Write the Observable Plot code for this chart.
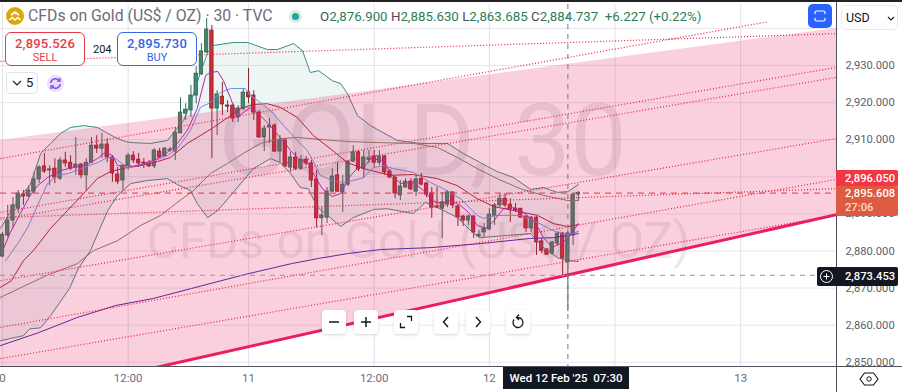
<!DOCTYPE html>
<html><head><meta charset="utf-8">
<script src="https://cdn.jsdelivr.net/npm/d3@7"></script>
<script src="https://cdn.jsdelivr.net/npm/@observablehq/plot@0.6"></script>
<style>
html,body{margin:0;padding:0;background:#fff;overflow:hidden}
#wrap{position:relative;width:902px;height:392px;overflow:hidden;font-family:Roboto,sans-serif}
#wrap svg.plot{position:absolute;left:0;top:0}
.abs{position:absolute;box-sizing:border-box;white-space:nowrap}
.tag{left:836px;width:62px;color:#fff;font-size:11.2px;font-weight:500;padding-left:9px;border-radius:0 2px 2px 0}
.nav{width:24px;height:24px;top:310px;background:#fff;border-radius:4px;box-shadow:0 1px 3px rgba(0,0,0,.16)}
.nav svg{display:block}
</style></head><body><div id="wrap"></div>
<script>
// ---------- candles (30 min, bar 0 = 10 Feb 00:00) ----------
const opens = [2878.5,2884.2,2888.2,2891.4,2895.2,2894.7,2896.0,2899.3,2902.8,2901.7,2902.2,2899.5,2904.4,2903.8,2902.5,2903.3,2900.4,2903.8,2908.4,2907.6,2908.7,2905.2,2900.6,2899.0,2903.0,2905.7,2904.6,2903.8,2903.8,2902.8,2906.8,2905.5,2907.1,2906.8,2911.7,2917.0,2917.9,2921.9,2927.6,2933.5,2939.4,2918.4,2921.6,2919.2,2919.2,2916.0,2918.4,2922.7,2921.9,2917.3,2910.6,2913.3,2913.8,2906.8,2909.8,2902.5,2905.2,2902.2,2904.6,2903.6,2899.3,2888.8,2889.0,2896.0,2900.4,2895.8,2897.9,2904.1,2906.6,2902.2,2904.6,2905.5,2903.8,2905.5,2901.4,2899.8,2895.0,2897.1,2898.7,2896.0,2899.5,2898.2,2895.5,2892.0,2891.4,2892.5,2895.8,2892.0,2889.3,2888.2,2889.3,2883.9,2885.0,2885.8,2889.5,2892.3,2894.1,2892.5,2891.4,2891.4,2889.3,2886.1,2889.0,2882.6,2880.4,2879.3,2882.0,2884.7,2876.9,2884.2,2895.2];
const highs = [2885.0,2892.3,2894.4,2896.3,2896.3,2897.6,2901.2,2903.0,2906.3,2903.0,2904.9,2905.2,2906.6,2905.7,2910.6,2903.6,2904.9,2910.6,2911.1,2911.7,2910.3,2905.7,2902.5,2903.0,2906.3,2906.8,2906.3,2904.9,2904.4,2907.6,2907.6,2907.9,2907.9,2913.3,2921.3,2919.7,2924.6,2929.7,2935.9,2942.7,2940.8,2923.2,2925.4,2920.5,2919.7,2919.2,2923.8,2929.2,2923.2,2917.9,2913.8,2915.7,2914.3,2911.1,2910.3,2906.6,2906.6,2905.7,2905.5,2904.4,2901.7,2891.7,2897.1,2902.2,2903.8,2900.4,2904.4,2908.4,2907.1,2907.1,2907.1,2907.1,2907.1,2905.7,2901.9,2900.1,2899.0,2899.5,2899.5,2900.4,2900.9,2898.5,2897.1,2897.1,2895.8,2896.3,2895.8,2892.3,2889.6,2889.6,2889.6,2885.5,2887.4,2891.4,2892.8,2895.5,2895.5,2894.1,2892.8,2891.4,2889.3,2889.3,2889.3,2883.4,2880.7,2882.6,2885.0,2885.0,2885.63,2895.5,2896.05];
const lows = [2878.2,2883.6,2886.3,2890.1,2892.3,2894.4,2895.5,2898.2,2900.9,2897.6,2898.2,2899.0,2902.5,2901.7,2900.4,2899.5,2896.3,2903.6,2906.3,2904.9,2903.8,2898.5,2897.9,2896.3,2901.7,2903.6,2902.5,2902.2,2902.5,2902.2,2904.9,2905.2,2906.6,2904.4,2911.7,2915.2,2916.0,2919.7,2927.3,2933.2,2904.9,2911.1,2916.5,2917.3,2914.6,2914.6,2917.9,2919.7,2915.2,2910.3,2906.8,2909.0,2906.6,2903.8,2902.5,2901.2,2901.7,2901.7,2903.0,2897.1,2886.3,2884.2,2887.4,2895.8,2895.8,2890.4,2897.4,2903.8,2901.4,2899.5,2903.6,2902.5,2903.0,2900.4,2899.5,2894.1,2893.6,2897.1,2896.3,2894.7,2897.6,2894.4,2888.8,2891.4,2883.4,2891.7,2891.4,2886.6,2886.6,2886.9,2883.4,2883.4,2883.6,2885.5,2886.9,2891.7,2891.7,2887.7,2890.4,2888.8,2885.0,2885.0,2878.8,2879.3,2878.8,2878.8,2881.5,2872.9,2863.685,2881.5,2893.3];
const closes = [2884.4,2888.2,2892.3,2895.5,2894.7,2896.3,2899.3,2902.5,2901.4,2902.0,2899.8,2904.4,2903.6,2902.2,2903.3,2900.4,2903.8,2908.4,2907.6,2908.7,2905.2,2900.9,2898.7,2903.0,2905.7,2904.4,2903.6,2903.6,2902.8,2907.1,2905.2,2907.6,2907.3,2911.9,2917.3,2918.1,2921.9,2927.8,2933.8,2939.7,2918.4,2922.2,2919.5,2918.9,2915.7,2918.4,2922.7,2921.4,2917.3,2910.6,2913.0,2913.8,2906.8,2909.8,2902.8,2905.2,2902.2,2904.6,2903.6,2899.0,2888.8,2889.6,2896.0,2900.1,2896.0,2897.9,2904.1,2906.6,2902.0,2905.2,2904.9,2903.8,2905.5,2901.2,2899.8,2895.5,2897.4,2898.7,2896.6,2899.3,2897.9,2895.2,2891.7,2891.7,2893.1,2895.8,2892.3,2889.0,2888.2,2889.3,2885.0,2884.4,2886.1,2889.8,2892.3,2894.1,2892.3,2891.2,2890.9,2889.0,2886.1,2889.0,2882.3,2880.1,2879.0,2882.3,2884.7,2878.0,2884.737,2895.2,2895.608];

// ---------- indicators: [bar, price] readings ----------
const bbUpperBars = [-0.4,1.5,3.8,5.2,5.9,7.3,9.2,11.1,13,15.5,18.1,20.1,22,23.5,25,28.3,31.5,32.7,34.6,36.3,37.8,39.2,40.3,44.1,46.8,50.6,52.5,55.6,57.3,58.8,60.4,63,64.6,65.9,67.8,70.3,75.4,79.8,85,88,91.3,94.5,97.6,100.9,103.3,106,108,110];
const bbUpperVals = [2886.1,2890.4,2895.5,2897.6,2900.4,2906.3,2909.0,2911.7,2913.3,2913.8,2913.3,2911.7,2910.3,2909.5,2909.2,2909.0,2909.8,2911.9,2915.2,2921.4,2928.1,2933.5,2935.4,2936.2,2936.2,2934.3,2934.3,2935.9,2934.0,2928.1,2928.6,2925.9,2925.1,2922.4,2916.5,2913.8,2909.8,2909.0,2909.0,2906.3,2903.8,2901.4,2899.8,2896.6,2897.1,2895.8,2896.0,2897.9];
const bbLowerBars = [-0.4,4,5.2,7.3,9.2,12.8,14.5,16.8,18.7,20.1,22,24.5,27.7,31.5,33.4,35.9,37.2,39.2,41.1,44.1,47.9,51.2,53.1,55,56.9,58.4,60.2,62.1,64.6,67,70.9,73.5,78.5,80.8,83.1,86.9,90,91.3,96.5,100.9,103.3,106,108,110];
const bbLowerVals = [2855.8,2857.2,2859.0,2859.3,2862.6,2869.9,2875.3,2880.1,2886.3,2890.9,2895.0,2898.2,2899.0,2899.5,2897.9,2896.3,2892.8,2889.0,2890.9,2895.8,2902.2,2904.9,2903.8,2900.9,2897.1,2896.8,2891.7,2889.6,2886.6,2889.0,2891.2,2891.4,2890.1,2893.1,2891.7,2889.0,2884.7,2883.6,2884.2,2884.7,2881.0,2878.2,2877.4,2877.2];
const fastBars = [0.2,1.5,3.4,5.3,6.7,8.6,11.1,13.6,16.2,18.1,19.7,21,22,23.9,25,27.7,29.6,31.5,33.4,35.3,37.2,38.8,39.7,41.1,42.2,43.6,44.9,46,47.4,48.9,50.8,52.7,54,55,56.5,58.4,59.8,61.1,63,64.6,66.5,67.8,69.3,70.3,72.8,74.1,76,78.5,80.4,82.1,83.7,85.6,87.5,89,90.7,92.3,93.6,95.7,97.6,99.5,101.8,103.3,105,106.6,108,110];
const fastVals = [2880.7,2885.0,2890.1,2895.0,2897.6,2899.8,2901.7,2902.5,2903.3,2904.9,2906.6,2905.7,2903.0,2903.0,2902.8,2903.8,2904.9,2906.6,2909.0,2912.5,2918.4,2927.3,2928.1,2928.4,2925.9,2921.1,2916.0,2917.3,2918.7,2917.0,2914.3,2911.1,2909.0,2907.1,2904.9,2903.6,2899.8,2896.8,2894.7,2895.5,2900.4,2902.2,2903.0,2904.9,2904.4,2900.9,2898.2,2898.5,2896.3,2893.6,2892.8,2893.6,2892.3,2890.4,2886.9,2886.1,2887.7,2891.4,2891.7,2890.4,2887.7,2883.6,2881.0,2882.0,2883.4,2887.4];
const blueBars = [0.6,2.9,4.8,6.7,8.6,10.5,12.6,15.5,18.1,20.1,21.6,23.9,27.7,31.5,33.4,35.9,37.8,39.7,41.6,43.6,46.4,47.4,49.3,51.8,53.7,56,58.2,59.8,60.7,63,65.1,67,69,70.9,72.8,74.7,78.5,81.7,84.2,87.5,90.7,91.9,94.5,98.9,102.2,105.2,108,110];
const blueVals = [2877.4,2882.0,2886.3,2892.3,2898.2,2900.4,2900.9,2902.5,2903.8,2905.2,2904.9,2902.5,2903.6,2905.7,2907.6,2912.5,2918.7,2920.0,2922.7,2923.8,2923.8,2921.9,2920.0,2917.0,2913.8,2910.3,2907.1,2903.0,2900.4,2899.0,2898.5,2899.0,2899.8,2902.5,2903.0,2902.2,2901.2,2898.5,2896.8,2894.1,2889.6,2888.8,2889.6,2889.6,2887.7,2885.5,2884.2,2885.3];
const redBars = [-0.4,1.7,4,5.9,9.2,12.4,15.5,18.1,20.6,23.9,26.4,29.6,32.1,35.3,37.8,40.3,43.6,45.5,47.9,50.6,53.1,56.3,59.4,62.6,65.9,69,74.1,78.5,83.1,86.9,90.7,93.8,97.6,102.2,105.2,108,110];
const redVals = [2870.2,2872.0,2877.4,2880.1,2886.1,2890.9,2895.5,2899.5,2901.4,2902.5,2903.0,2904.1,2905.2,2909.0,2911.1,2913.3,2916.5,2918.4,2919.5,2919.7,2918.7,2916.0,2911.1,2907.6,2903.8,2902.2,2900.4,2900.6,2899.5,2897.6,2894.1,2892.0,2890.9,2889.6,2887.4,2886.6,2887.1];
const oliveBars = [-0.4,3.2,8.4,14.3,17.4,22,26.4,30.2,33.4,36.5,39.7,43,46,49.3,53.1,56.3,61.3,65.9,72.2,78.5,83.1,86.9,90.7,94.5,98.9,103.3,108,110];
const oliveVals = [2867.5,2869.9,2873.4,2876.6,2880.1,2882.8,2886.9,2889.6,2893.1,2896.3,2900.9,2903.6,2906.3,2909.0,2910.3,2910.6,2910.0,2909.5,2909.2,2909.0,2907.9,2905.2,2902.2,2899.5,2896.8,2895.0,2893.6,2893.6];
const navyBars = [-0.4,6.9,14.3,21.6,28.8,36.1,46.4,55.2,60.4,65.9,72.2,81.7,91.3,100.9,105.2,108,110];
const navyVals = [2854.5,2858.0,2862.1,2865.3,2867.2,2869.9,2873.7,2876.6,2878.0,2879.3,2880.4,2880.9,2882.0,2883.4,2883.6,2884.2,2884.7];

// ---------- drawings ----------
const leftBar = -0.382, rightBar = 159.31;
const channelTop = [2909.8, 2940.0];
const channelBottom = [2839.2, 2889.8];
const rayEnds = [ // [bar0, price0, bar1, price1]
  [leftBar,2931.1,rightBar,2938.6],
  [leftBar,2904.9,146.3,2941.8],
  [leftBar,2890.4,rightBar,2929.5],
  [leftBar,2888.5,rightBar,2926.8],
  [leftBar,2872.0,rightBar,2910.3],
  [leftBar,2859.4,rightBar,2899.3],
  [leftBar,2851.0,rightBar,2889.6],
  [leftBar,2889.0,rightBar,2896.8]
];
const bidPrice = 2896.05, lastPrice = 2895.608, crossPrice = 2873.453, crossBar = 108;

// ---------- axes ----------
const priceTicks = [2850,2860,2870,2880,2890,2900,2910,2920,2930,2940];
const axisPrices = [2850,2860,2870,2880,2890,2910,2920,2930];
const timeTicks = [0,24,47,71,93,117,141];
const labelledBars = [0,24,47,71,93,141];
const timeLabels = ["0","12:00","11","12:00","12","13"];

// ---------- labels ----------
const titleText = "CFDs on Gold (US$ / OZ) · 30 · TVC";
const ohlc = [["O","2,876.900"],["H","2,885.630"],["L","2,863.685"],["C","2,884.737"]];
const changeText = "+6.227 (+0.22%)";
const sellText = "2,895.526", buyText = "2,895.730", spreadText = "204";
const dateText = "Wed 12 Feb '25", timeText = "07:30", countdown = "27:06";

const bars = opens.map((o,i)=>({i,o,h:highs[i],l:lows[i],c:closes[i],up:closes[i]>=o}));
const pairs = (xs,ys)=>xs.map((x,k)=>({x,y:ys[k]}));
const bbUpper = pairs(bbUpperBars,bbUpperVals), bbLower = pairs(bbLowerBars,bbLowerVals);
const bbPoly = bbUpper.concat(bbLower.slice().reverse());
const channel = [{x:leftBar,y1:channelBottom[0],y2:channelTop[0]},{x:rightBar,y1:channelBottom[1],y2:channelTop[1]}];
const ln = (d,stroke,w=1)=>Plot.line(d,{x:"x",y:"y",stroke,strokeWidth:w,clip:"frame"});
const rays = rayEnds.map(r=>Plot.link([r],{x1:d=>d[0],y1:d=>d[1],x2:d=>d[2],y2:d=>d[3],stroke:"#e2243f",strokeWidth:1.2,strokeDasharray:"1 2",clip:"frame"}));

const chart = Plot.plot({
  width:902,height:392,marginLeft:0,marginRight:66,marginTop:4,marginBottom:26,
  style:{fontFamily:"Roboto,sans-serif",fontSize:"12px",background:"transparent",overflow:"hidden"},
  x:{type:"linear",domain:[leftBar,rightBar],axis:null},
  y:{type:"linear",domain:[2848.87,2946.44],axis:null},
  marks:[
    Plot.ruleY(priceTicks,{stroke:"#e6e7ec",strokeWidth:1}),
    Plot.ruleX(timeTicks,{stroke:"#e2e3e8",strokeWidth:1}),
    Plot.text(["GOLD, 30"],{frameAnchor:"middle",dx:4,dy:-43,fontSize:100,fill:"#787b86",fillOpacity:.17}),
    Plot.text(["CFDs on Gold (US$ / OZ)"],{frameAnchor:"middle",dx:0,dy:57,fontSize:49.5,fill:"#787b86",fillOpacity:.15}),
    Plot.line(bbPoly,{x:"x",y:"y",fill:"#5aa0a0",fillOpacity:.1,stroke:"none",clip:"frame"}),
    Plot.ruleX(bars,{x:"i",y1:"l",y2:"h",stroke:d=>d.up?"#3a6b56":"#84262a",strokeWidth:1,clip:"frame"}),
    Plot.rect(bars,{x1:d=>d.i-.32,x2:d=>d.i+.32,y1:d=>Math.min(d.o,d.c),y2:d=>Math.max(d.o,d.c),fill:d=>d.up?"#3f8a6c":"#d02c32",stroke:d=>d.up?"#33604e":"#8a2024",strokeWidth:.8,clip:"frame"}),
    ln(bbUpper,"#3d8a85"),ln(bbLower,"#3d8a85"),
    ln(pairs(navyBars,navyVals),"#3a2ca8",1),
    ln(pairs(oliveBars,oliveVals),"#7f8460"),
    ln(pairs(redBars,redVals),"#ab2236",1),
    ln(pairs(blueBars,blueVals),"#6f93e0"),
    ln(pairs(fastBars,fastVals),"#a52bb5"),
    Plot.areaY(channel,{x:"x",y1:"y1",y2:"y2",fill:"#e91e63",fillOpacity:.21,clip:"frame"}),
    ...rays,
    Plot.link([0],{x1:leftBar,y1:channelBottom[0],x2:rightBar,y2:channelBottom[1],stroke:"#e91e63",strokeWidth:3,clip:"frame"}),
    Plot.ruleY([lastPrice],{stroke:"#e0384c",strokeWidth:1,strokeDasharray:"6 5"}),
    Plot.ruleY([crossPrice],{stroke:"#9598a1",strokeWidth:1,strokeDasharray:"5 5"}),
    Plot.ruleX([crossBar],{stroke:"#787b86",strokeWidth:1,strokeDasharray:"5 5"}),
    Plot.axisY(axisPrices,{anchor:"right",tickSize:0,tickPadding:9,tickFormat:d3.format(",.3f"),fill:"#5c5f6b",fontSize:11.2,label:null}),
    Plot.axisX(labelledBars,{anchor:"bottom",tickSize:0,tickPadding:7,tickFormat:d=>timeLabels[labelledBars.indexOf(d)],fill:"#6a6d78",fontSize:11.5,label:null})
  ]
});
const wrap = document.getElementById("wrap");
wrap.appendChild(chart);

const add = (css,html="",cls="abs")=>{const e=document.createElement("div");e.className=cls;e.style.cssText=css;e.innerHTML=html;wrap.appendChild(e);return e;};
// frame
add("left:0;top:0;width:902px;height:2px;background:#222");
add("left:836px;top:2px;width:1px;height:390px;background:#50535e");
add("left:0;top:366px;width:902px;height:1px;background:#50535e");
// header
add("left:6px;top:7px;width:18px;height:18px",`<svg width="18" height="18"><circle cx="9" cy="9" r="9" fill="#dfa60c"/><path d="M5 8l4-3 4 3M3.5 13l2.7-2.5 2.8 2.5 2.8-2.5 2.7 2.5" fill="none" stroke="#fff" stroke-width="1.6"/></svg>`);
add("left:28px;top:6px;font-size:15.8px;color:#6a6d78;line-height:20px",titleText);
add("left:289px;top:10px;width:13px;height:13px;border-radius:50%;background:#d5ece6",`<div class="abs" style="left:3px;top:3px;width:7px;height:7px;border-radius:50%;background:#26a69a"></div>`);
add("left:320px;top:9px;font-size:13.3px;line-height:16px;color:#2e7d5b",
  ohlc.map(([k,v])=>`<span style="color:#4a4d58">${k}</span>${v}`).join("&nbsp;")+"&nbsp;&nbsp;"+changeText);
// sell / buy
const box=(l,w,col,a,b)=>add(`left:${l}px;top:32px;width:${w}px;height:34px;background:#fff;border:1px solid ${col};border-radius:6px;color:${col};text-align:center`,
  `<div style="font-size:13px;font-weight:500;line-height:15px;margin-top:3px;letter-spacing:.2px">${a}</div><div style="font-size:11px;line-height:13px">${b}</div>`);
box(5,80,"#e53a4c",sellText,"SELL");
box(117,80,"#3565e8",buyText,"BUY");
add("left:92px;top:43px;font-size:11px;color:#131722;line-height:14px;background:#fff;padding:0 1px",spreadText);
// interval
add("left:6px;top:72px;width:32px;height:22px;background:#fff;border:1px solid #e0e3eb;border-radius:4px;font-size:13px;color:#131722;line-height:20px",
  `<svg class="abs" style="left:5px;top:7px" width="10" height="7"><path d="M1 1l4 4 4-4" fill="none" stroke="#131722" stroke-width="1.1"/></svg><span class="abs" style="left:19px">5</span>`);
add("left:47px;top:75px;width:17px;height:17px;border-radius:50%;background:#e9dffb",`<svg width="17" height="17"><path d="M3.8 8a4.8 4.8 0 0 1 8.4-2.6M13.2 9a4.8 4.8 0 0 1-8.4 2.6" fill="none" stroke="#7e3ff2" stroke-width="1.4"/><path d="M13 2.8v3.4h-3.2M4 14.2v-3.4h3.2" fill="none" stroke="#7e3ff2" stroke-width="1.3"/></svg>`);
// top-right
add("left:808px;top:4px;width:24px;height:24px;background:#2962ff;border-radius:5px",`<svg width="24" height="24"><path d="M7 10V8.5A1.5 1.5 0 0 1 8.5 7h7A1.5 1.5 0 0 1 17 8.5V10M7 14v1.5A1.5 1.5 0 0 0 8.5 17h7a1.5 1.5 0 0 0 1.5-1.5V14" fill="none" stroke="#fff" stroke-width="1.2"/></svg>`);
add("left:841px;top:5px;width:57px;height:25px;border:1px solid #e8e9ee;border-radius:4px;font-size:12.5px;color:#131722;line-height:23px;padding-left:4px",
  `USD<svg class="abs" style="left:45px;top:10px" width="8" height="6"><path d="M1 1l3 3 3-3" fill="none" stroke="#131722" stroke-width="1.1"/></svg>`);
// price tags
add("top:170px;height:17px;background:#f23645;line-height:17px","2,896.050","abs tag");
add("top:186px;height:30px;background:#de5a40;line-height:14px;padding-top:1px",`2,895.608<br><span style="color:#fbd9ce">${countdown}</span>`,"abs tag");
add("left:817px;top:267px;width:81px;height:19px;background:#131722;border-radius:2px;color:#fff;font-size:11.2px;font-weight:500;line-height:19px;padding-left:28px",
  `2,873.453<svg class="abs" style="left:2px;top:2px" width="15" height="15"><circle cx="7.5" cy="7.5" r="6" fill="none" stroke="#fff"/><path d="M7.5 4.5v6M4.5 7.5h6" stroke="#fff"/></svg>`);
// date tag
add("left:503px;top:367px;width:126px;height:22px;background:#131722;color:#fff;font-size:11.5px;font-weight:500;line-height:22px;text-align:center",`${dateText}&nbsp;&nbsp;${timeText}`);
// settings
add("left:859px;top:369px;width:20px;height:20px",`<svg width="20" height="20"><path d="M5.5 4h9l4.5 6-4.5 6h-9L1 10z" fill="none" stroke="#131722" stroke-width="1.1"/><circle cx="10" cy="10" r="2.2" fill="none" stroke="#131722"/></svg>`);
// nav buttons
const navIcons = {
 334:'<path d="M7 12h10" stroke="#131722" stroke-width="1.5"/>',
 366:'<path d="M7 12h10M12 7v10" stroke="#131722" stroke-width="1.5"/>',
 406:'<path d="M6.5 13v4.5H11M13 6.5h4.5V11" fill="none" stroke="#131722" stroke-width="1.3"/>',
 446:'<path d="M14 7l-4.5 5 4.5 5" fill="none" stroke="#131722" stroke-width="1.4"/>',
 478:'<path d="M10 7l4.5 5-4.5 5" fill="none" stroke="#131722" stroke-width="1.4"/>',
 518:'<path d="M8 9.5a5 5 0 1 0 4-2h-1.5M13 4.5l-2.5 3 2.5 2.5" fill="none" stroke="#131722" stroke-width="1.3"/>'
};
for (const c in navIcons) add(`left:${+c-12}px`,`<svg width="24" height="24">${navIcons[c]}</svg>`,"abs nav");
</script></body></html>
